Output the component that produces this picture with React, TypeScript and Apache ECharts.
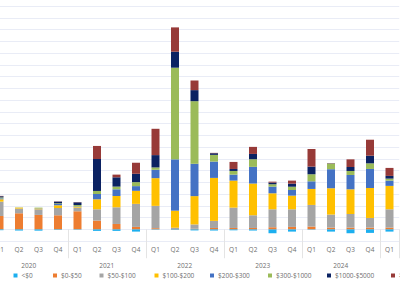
import React, { useEffect, useRef } from "react";
import * as echarts from "echarts";

const years = ["2020", "2021", "2022", "2023", "2024", "2025"];
const periods = [
  "2020 Q1", "2020 Q2", "2020 Q3", "2020 Q4",
  "2021 Q1", "2021 Q2", "2021 Q3", "2021 Q4",
  "2022 Q1", "2022 Q2", "2022 Q3", "2022 Q4",
  "2023 Q1", "2023 Q2", "2023 Q3", "2023 Q4",
  "2024 Q1", "2024 Q2", "2024 Q3", "2024 Q4",
  "2025 Q1",
];

const seriesNames = ["<$0", "$0-$50", "$50-$100", "$100-$200", "$200-$300", "$300-$1000", "$1000-$5000", ">$5000"];
const seriesColors = ["#1CAFEF", "#ED7D31", "#A5A5A5", "#FFC000", "#4472C4", "#9BBB59", "#0B2262", "#973A38"];

const below0 = [-0.8, -1.1, -1.2, -0.5, -0.4, -1.4, -1.4, -2, -0.4, -0.5, -1, -1.1, -0.9, -1.1, -3.4, -2, -0.4, -2, -3.4, -3.1, -2];
const r0to50 = [11.3, 13.6, 12.2, 11.9, 15.3, 7.4, 4.5, 2, 0.9, 0.2, 0.4, 1.1, 1.1, 1.1, 1.7, 2, 2.3, 1.4, 1.4, 1.4, 1.4];
const r50to100 = [12.2, 4, 4.8, 6.2, 3.1, 9.6, 14.2, 19.6, 19, 1.1, 3.7, 6, 17.3, 10.8, 15.3, 15, 18.4, 11.1, 11.6, 8.2, 15.6];
const r100to200 = [2, 0.8, 0.6, 2.3, 0.8, 8.5, 9.6, 11.1, 23.6, 14.5, 24.1, 36.6, 23, 27, 13.6, 11.6, 13.6, 22.4, 21, 25.5, 19.9];
const r200to300 = [0.8, 0, 0.2, 1.1, 0.3, 4.5, 5.7, 4, 7.1, 43.7, 27.5, 13.9, 5.1, 14.2, 5.7, 4.8, 6.5, 16.2, 12.2, 16.2, 4.5];
const r300to1000 = [0.8, 0.2, 0.6, 0.6, 1.1, 2.6, 2.3, 3.4, 2, 78, 53.3, 5.7, 3.1, 6.5, 2, 2.8, 6, 4.8, 3.4, 4.8, 1.7];
const r1000to5000 = [1, 0, 0, 1.4, 2.3, 27.2, 7.9, 7.1, 10.5, 13.6, 9.4, 1.4, 1.7, 4.5, 1.4, 2.6, 6.5, 0.2, 3.4, 6.5, 2.3];
const over5000 = [0.3, 0, 0, 0.2, 0.2, 11.1, 2.3, 9.4, 22.4, 20.7, 8.2, 0.3, 6, 6, 0.8, 2.6, 15, 0.2, 6.5, 13.6, 6.8];

const seriesData = [below0, r0to50, r50to100, r100to200, r200to300, r300to1000, r1000to5000, over5000];

const OFFSET = 50;
const legendIconX = [13.5, 53, 99.5, 154.5, 210, 268, 327, 391];
const FONT = "'Open Sans', 'Noto Sans', sans-serif";
const TEXT_COLOR = "#6f6f6f";

export default function App() {
  const ref = useRef<HTMLDivElement>(null);
  useEffect(() => {
    if (!ref.current) return;
    const chart = echarts.init(ref.current, undefined, { renderer: "svg" });
    const option: any = {
      animation: false,
      backgroundColor: "#ffffff",
      grid: { left: OFFSET - 10.25, top: 6, width: 409.5, height: 235, containLabel: false },
      legend: seriesNames.map((name, i) => ({
        show: true,
        data: [name],
        left: OFFSET + legendIconX[i],
        top: 272,
        padding: 0,
        itemGap: 0,
        itemWidth: 4,
        itemHeight: 4,
        icon: "rect",
        itemStyle: { color: seriesColors[i] },
        textStyle: { fontSize: 6.5, color: TEXT_COLOR, fontFamily: FONT, padding: [0, 0, 0, -1] },
        selectedMode: false,
      })),
      xAxis: [
        {
          type: "category",
          data: periods,
          position: "bottom",
          axisLine: { show: false },
          axisTick: {
            show: true,
            length: 29,
            interval: (i: number) => i % 4 === 0 && i > 0,
            lineStyle: { color: "#e4e4e4" },
          },
          axisLabel: {
            interval: 0,
            margin: 5,
            fontSize: 6.5,
            color: TEXT_COLOR,
            fontFamily: FONT,
            formatter: (v: string) => v.split(" ")[1],
          },
          splitLine: { show: false },
        },
        {
          type: "value",
          min: 0,
          max: 21,
          interval: 2,
          position: "bottom",
          axisLine: { show: false },
          axisTick: { show: false },
          splitLine: { show: false },
          axisLabel: {
            margin: 21,
            fontSize: 6.5,
            color: TEXT_COLOR,
            fontFamily: FONT,
            showMinLabel: true,
            showMaxLabel: true,
            formatter: (v: number) => (v % 4 === 2 ? years[(v - 2) / 4] : ""),
          },
        },
      ],
      yAxis: {
        type: "value",
        min: -10,
        max: 190,
        interval: 10,
        axisLabel: { show: false },
        axisLine: { show: false },
        axisTick: { show: false },
        splitLine: { show: true, lineStyle: { color: "#e9ecf6", width: 1 } },
      },
      series: seriesNames.map((name, i) => ({
        name,
        type: "bar",
        stack: "total",
        xAxisIndex: 0,
        barWidth: 8,
        itemStyle: { color: seriesColors[i] },
        emphasis: { disabled: true },
        data: seriesData[i],
      })),
    };
    chart.setOption(option);
    return () => chart.dispose();
  }, []);
  return (
    <div style={{ position: "fixed", left: 0, top: 0, width: 400, height: 283, overflow: "hidden", background: "#fff" }}>
      <div ref={ref} style={{ position: "absolute", left: -OFFSET, top: 0, width: 400 + OFFSET + 10, height: 283 }} />
    </div>
  );
}
